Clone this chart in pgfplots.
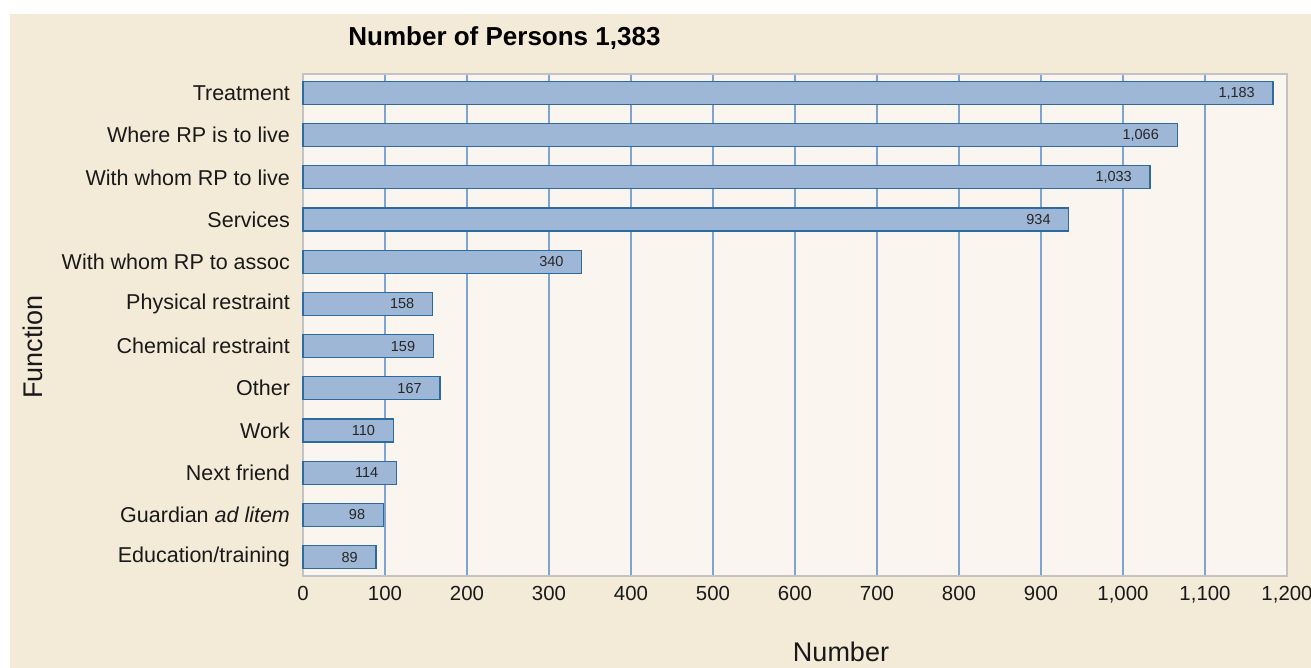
\documentclass[border=0pt]{standalone}
\usepackage{pgfplots}
\pgfplotsset{compat=1.18}
\usepackage{fontspec}
\setmainfont{Liberation Sans}
\definecolor{beigebg}{HTML}{F3EBD8}
\definecolor{plotbg}{HTML}{FAF6EF}
\definecolor{barfill}{HTML}{9FB7D6}
\definecolor{baredge}{HTML}{2D6AA0}
\definecolor{gridcol}{HTML}{7EA5D1}
\definecolor{framecol}{HTML}{C3C3C3}
\begin{document}
\begin{tikzpicture}
\fill[white] (0,0) rectangle (655.5pt,334pt);
\fill[beigebg] (5pt,0) rectangle (655.5pt,327pt);
\begin{axis}[
  at={(151.5pt,46pt)}, anchor=south west,
  scale only axis,
  width=492pt, height=251pt,
  xbar, bar width=11.5pt,
  xmin=0, xmax=1200,
  ymin=-0.45, ymax=11.45,
  y dir=reverse,
  ytick={0,...,11},
  yticklabels={Treatment,Where RP is to live,With whom RP to live,Services,With whom RP to assoc,Physical restraint,Chemical restraint,Other,Work,Next friend,Guardian \textit{ad litem},Education/training},
  xtick={0,100,...,1200},
  major tick length=0pt,
  xmajorgrids,
  grid style={draw=gridcol, line width=0.6pt},
  axis line style={draw=framecol, line width=1.2pt},
  axis background/.style={fill=plotbg},
  /pgf/number format/assume math mode=true,
  /pgf/number format/1000 sep={,},
  xticklabel style={font=\fontsize{10.2pt}{12pt}\selectfont, text=black!90, yshift=-1.5pt},
  yticklabel style={font=\fontsize{10.75pt}{12pt}\selectfont, text=black!90, xshift=-3pt},
  nodes near coords,
  nodes near coords style={anchor=east, xshift=-5.5pt, font=\fontsize{7.25pt}{8pt}\selectfont, text=black!85, /pgf/number format/1000 sep={,}},
  clip=false,
]
\addplot[fill=barfill, draw=baredge, line width=0.6pt] coordinates {
(1183,0) (1066,1) (1033,2) (934,3) (340,4) (158,5) (159,6) (167,7) (110,8) (114,9) (98,10) (89,11)
};
\end{axis}
\node[anchor=west, inner sep=0pt, font=\bfseries\fontsize{13pt}{15pt}\selectfont] at (174pt,315pt) {Number of Persons 1,383};
\node[font=\fontsize{13.5pt}{16pt}\selectfont, text=black!90] at (420.5pt,8pt) {Number};
\node[rotate=90, font=\fontsize{13.5pt}{16pt}\selectfont, text=black!90] at (16.5pt,160.5pt) {Function};
\pgfresetboundingbox
\useasboundingbox (0,0) rectangle (655.5pt,334pt);
\end{tikzpicture}
\end{document}
